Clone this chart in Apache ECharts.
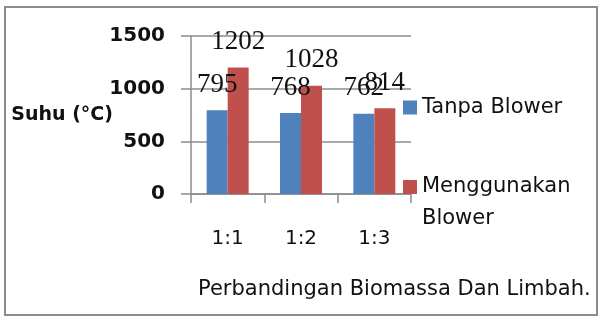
<!DOCTYPE html>
<html>
<head>
<meta charset="utf-8">
<script src="https://cdn.jsdelivr.net/npm/echarts@6/dist/echarts.min.js"></script>
<style>
  html, body { margin: 0; padding: 0; background: #fff; }
  #chart1 { width: 600px; height: 320px; }
</style>
</head>
<body>
<div id="chart1"></div>
<script>
// data
const categories = ['1:1', '1:2', '1:3'];
const tanpaBlower = [795, 768, 762];
const denganBlower = [1202, 1028, 814];
const yTicks = { min: 0, max: 1500, interval: 500 };

function initChart() {
    const chart = echarts.init(document.getElementById('chart1'), null, { renderer: 'canvas' });

    const labelStyle = {
        show: true,
        position: 'top',
        distance: 12,
        fontFamily: 'Liberation Serif',
        fontSize: 27,
        color: '#111'
    };

    const option = {
        animation: false,
        backgroundColor: '#fff',
        grid: { left: 191, right: 189, top: 36, bottom: 126 },
        // border around the whole chart
        graphic: [
            {
                type: 'rect',
                shape: { x: 5, y: 7, width: 592, height: 308 },
                style: { fill: 'none', stroke: '#8c8c8c', lineWidth: 2 }
            },
            {
                type: 'text',
                left: 198,
                top: 279,
                style: {
                    text: 'Perbandingan Biomassa Dan Limbah.',
                    fontFamily: 'DejaVu Sans',
                    fontSize: 21,
                    fill: '#111'
                }
            }
        ],
        legend: [
            {
                data: ['Tanpa Blower'],
                left: 403,
                top: 97,
                padding: 0,
                itemWidth: 14,
                itemHeight: 14,
                icon: 'rect',
                textStyle: { fontFamily: 'DejaVu Sans', fontSize: 21, color: '#111' }
            },
            {
                data: ['Menggunakan Blower'],
                formatter: '\nMenggunakan\nBlower',
                left: 403,
                top: 139,
                padding: 0,
                itemWidth: 14,
                itemHeight: 14,
                icon: 'rect',
                textStyle: {
                    fontFamily: 'DejaVu Sans', fontSize: 21, color: '#111', lineHeight: 32
                }
            }
        ],
        xAxis: {
            type: 'category',
            data: categories,
            axisLine: { lineStyle: { color: '#8c8c8c', width: 1.5 } },
            axisTick: { show: true, length: 9, lineStyle: { color: '#8c8c8c', width: 1.5 } },
            axisLabel: { margin: 35, fontFamily: 'DejaVu Sans', fontSize: 20, color: '#111' }
        },
        yAxis: {
            type: 'value',
            min: yTicks.min,
            max: yTicks.max,
            interval: yTicks.interval,
            name: 'Suhu (°C)',
            nameLocation: 'middle',
            nameRotate: 0,
            nameGap: 78,
            nameMoveOverlap: false,
            nameTextStyle: { fontFamily: 'DejaVu Sans', fontWeight: 'bold', fontSize: 19, color: '#111' },
            axisLine: { show: true, lineStyle: { color: '#8c8c8c', width: 1.5 } },
            axisTick: { show: true, length: 10, lineStyle: { color: '#8c8c8c', width: 1.5 } },
            axisLabel: {
                margin: 26, fontFamily: 'DejaVu Sans', fontWeight: 'bold', fontSize: 20, color: '#111',
                formatter: v => String(v)
            },
            splitLine: { lineStyle: { color: '#8c8c8c', width: 1.5 } }
        },
        series: [
            {
                name: 'Tanpa Blower',
                type: 'bar',
                data: tanpaBlower,
                barWidth: 21,
                barGap: '0%',
                itemStyle: { color: '#4F81BD' },
                label: labelStyle
            },
            {
                name: 'Menggunakan Blower',
                type: 'bar',
                data: denganBlower,
                barWidth: 21,
                barGap: '0%',
                itemStyle: { color: '#C0504D' },
                label: labelStyle
            }
        ]
    };

    chart.setOption(option);
}

window.addEventListener('load', initChart);
</script>
</body>
</html>
